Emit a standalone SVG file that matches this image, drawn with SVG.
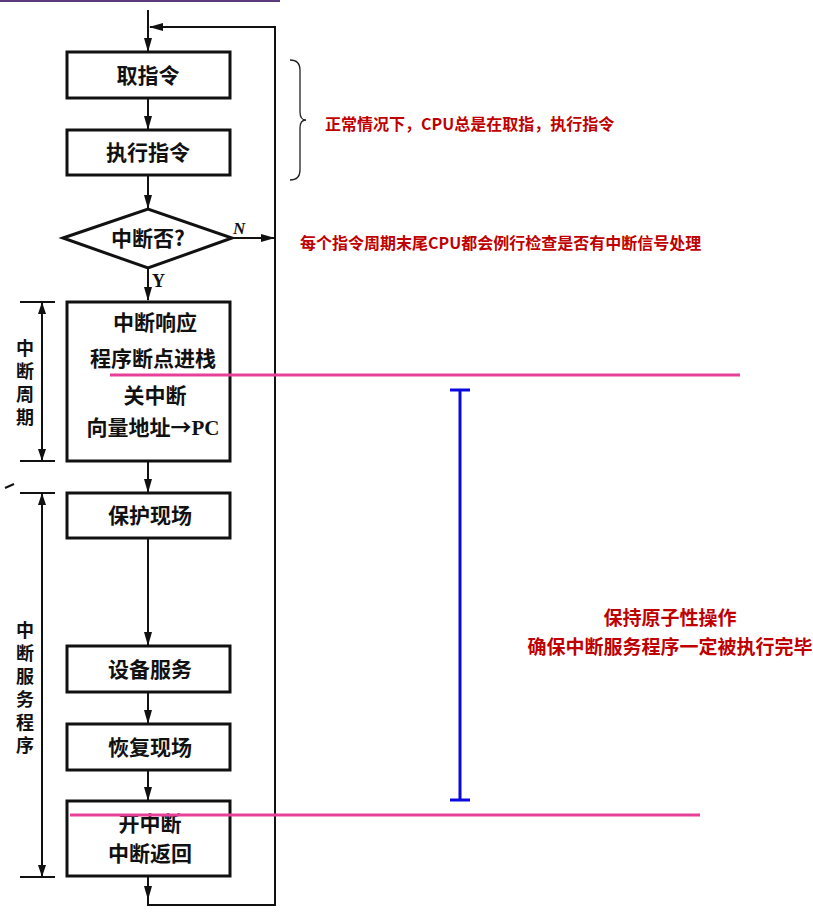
<svg xmlns="http://www.w3.org/2000/svg" width="813" height="913" viewBox="0 0 813 913">
<defs>
<marker id="ah" markerWidth="14" markerHeight="8" refX="13" refY="4" orient="auto" markerUnits="userSpaceOnUse">
<path d="M0,0 L14,4 L0,8 Z" fill="#111"/>
</marker>
<marker id="ahs" markerWidth="12" markerHeight="8" refX="11" refY="4" orient="auto-start-reverse" markerUnits="userSpaceOnUse">
<path d="M0,0 L12,4 L0,8 Z" fill="#111"/>
</marker>
</defs>
<style>
.box{fill:#fff;stroke:#111;stroke-width:3}
.t{font-family:"Noto Sans CJK SC","Liberation Sans",sans-serif;font-weight:bold;font-size:21px;fill:#111;text-anchor:middle}
.v{font-family:"Noto Sans CJK SC","Liberation Sans",sans-serif;font-weight:bold;font-size:18px;fill:#111;writing-mode:vertical-rl;letter-spacing:5px}
.ln{fill:none;stroke:#111;stroke-width:2}
.red{font-family:"Noto Sans CJK SC","Liberation Sans",sans-serif;font-weight:bold;fill:#c00000}
.pink{stroke:#e8409a;stroke-width:3}
.blue{stroke:#0a0ae0;stroke-width:3;fill:none}
</style>
<rect width="813" height="913" fill="#fff"/>
<rect x="0" y="0" width="280" height="2" fill="#5a3a7a"/>
<g id="connectors">
<path class="ln" d="M148,10 V51" marker-end="url(#ah)"/>
<path class="ln" d="M275,238 V27 H150" marker-end="url(#ah)"/>
<path class="ln" d="M148,98 V129" marker-end="url(#ah)"/>
<path class="ln" d="M148,175 V208" marker-end="url(#ah)"/>
<path class="ln" d="M232,238 H274" marker-end="url(#ah)"/>
<path class="ln" d="M148,268 V300" marker-end="url(#ah)"/>
<path class="ln" d="M148,461 V492" marker-end="url(#ah)"/>
<path class="ln" d="M148,538 V645" marker-end="url(#ah)"/>
<path class="ln" d="M148,692 V723" marker-end="url(#ah)"/>
<path class="ln" d="M148,770 V800" marker-end="url(#ah)"/>
<path class="ln" d="M148,876 V899" marker-end="url(#ah)"/>
<path class="ln" d="M148,899 V905 H275 V238"/>
<text x="152" y="287" font-family="Liberation Serif,serif" font-weight="bold" font-size="18" fill="#111">Y</text>
<text x="233" y="234" font-family="Liberation Serif,serif" font-weight="bold" font-style="italic" font-size="17" fill="#111">N</text>
</g>
<g id="n1"><rect class="box" x="67" y="52" width="163" height="46"/><text class="t" x="148" y="83">取指令</text></g>
<g id="n2"><rect class="box" x="67" y="130" width="163" height="45"/><text class="t" x="148" y="160">执行指令</text></g>
<g id="n3"><path class="box" d="M63,238 L148,209 L232,238 L148,268 Z"/><text class="t" x="148" y="246">中断否?</text></g>
<g id="n4"><rect class="box" x="67" y="302" width="163" height="159"/>
<text class="t" x="155" y="330">中断响应</text>
<text class="t" x="153" y="366">程序断点进栈</text>
<text class="t" x="155" y="403">关中断</text>
<text class="t" x="153" y="435">向量地址→<tspan font-family="Liberation Serif,serif">PC</tspan></text></g>
<g id="n5"><rect class="box" x="67" y="493" width="163" height="45"/><text class="t" x="150" y="523">保护现场</text></g>
<g id="n6"><rect class="box" x="67" y="646" width="163" height="46"/><text class="t" x="150" y="677">设备服务</text></g>
<g id="n7"><rect class="box" x="67" y="724" width="163" height="46"/><text class="t" x="150" y="755">恢复现场</text></g>
<g id="n8"><rect class="box" x="67" y="801" width="163" height="75"/>
<text class="t" x="150" y="831">开中断</text>
<text class="t" x="150" y="861">中断返回</text></g>
<g id="cycle">
<path class="ln" d="M20,302 H55 M20,461 H55"/>
<path class="ln" stroke-width="1.5" d="M42,303 V460" marker-start="url(#ahs)" marker-end="url(#ahs)"/>
<text class="v" x="25" y="339">中断周期</text>
</g>
<g id="service">
<path class="ln" d="M20,493 H55 M20,877 H55 M5,488 L14,484"/>
<path class="ln" stroke-width="1.5" d="M42,494 V876" marker-start="url(#ahs)" marker-end="url(#ahs)"/>
<text class="v" x="25" y="621">中断服务程序</text>
</g>
<g id="brace"><path fill="none" stroke="#222" stroke-width="1.3" d="M290,60 Q300,60 300,70 V112 Q300,120 306,120 Q300,120 300,128 V170 Q300,180 290,180"/></g>
<text class="red" x="325" y="130" font-size="16">正常情况下，CPU总是在取指，执行指令</text>
<text class="red" x="300" y="249" font-size="16">每个指令周期末尾CPU都会例行检查是否有中断信号处理</text>
<line class="pink" x1="110" y1="375" x2="740" y2="375"/>
<line class="pink" x1="70" y1="815" x2="700" y2="815"/>
<g id="atomic"><path class="blue" d="M460,390 V800 M450,390 H470 M450,800 H470"/></g>
<text class="red" x="670" y="625" font-size="19" text-anchor="middle">保持原子性操作</text>
<text class="red" x="670" y="654" font-size="19" text-anchor="middle">确保中断服务程序一定被执行完毕</text>
</svg>
